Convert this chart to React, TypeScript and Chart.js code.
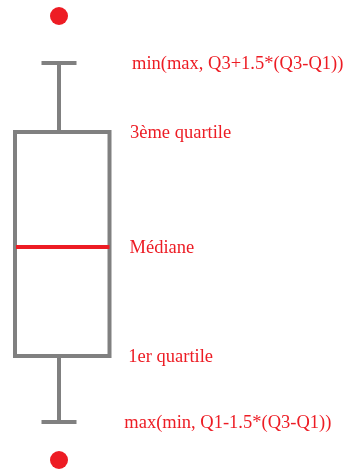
import { useEffect, useRef } from 'react';
import { Chart, registerables } from 'chart.js';

Chart.register(...registerables);

// ---- Data ----
const categories = ['Série'];
const upperOutliers = [45.5];
const upperWhiskers = [40.8];
const thirdQuartiles = [33.9];
const medians = [22.4];
const firstQuartiles = [11.5];
const lowerWhiskers = [4.9];
const lowerOutliers = [1.1];
const annotationLabels = [
  'min(max, Q3+1.5*(Q3-Q1))',
  '3ème quartile',
  'Médiane',
  '1er quartile',
  'max(min, Q1-1.5*(Q3-Q1))',
];

// ---- Styles ----
const RED = '#ed1c24';
const GRAY = '#808080';
const LINE_W = 4;
const BOX_HALF = 47.25;
const BOX_SHIFT = 3.25;
const CAP_HALF = 17.5;
const LABEL_OFFSETS = [73, 71, 70.5, 69.3, 65.3];
const LABEL_FONT = '18.5px "Liberation Serif", "Times New Roman", serif';

const boxPlugin = {
  id: 'boxAnnotations',
  afterDatasetsDraw(chart: any) {
    const { ctx, scales } = chart;
    const x = scales.x;
    const y = scales.y;
    const line = (x1: number, y1: number, x2: number, y2: number) => {
      ctx.beginPath();
      ctx.moveTo(x1, y1);
      ctx.lineTo(x2, y2);
      ctx.stroke();
    };
    categories.forEach((_, i) => {
      const cx = x.getPixelForValue(i);
      const yUW = y.getPixelForValue(upperWhiskers[i]);
      const yQ3 = y.getPixelForValue(thirdQuartiles[i]);
      const yMed = y.getPixelForValue(medians[i]);
      const yQ1 = y.getPixelForValue(firstQuartiles[i]);
      const yLW = y.getPixelForValue(lowerWhiskers[i]);
      const left = cx - BOX_HALF + BOX_SHIFT;
      const right = cx + BOX_HALF + BOX_SHIFT;

      ctx.save();
      ctx.lineCap = 'butt';
      ctx.lineJoin = 'miter';
      ctx.lineWidth = LINE_W;
      ctx.strokeStyle = GRAY;
      // whiskers
      line(cx, yUW, cx, yQ3);
      line(cx, yQ1, cx, yLW);
      // caps
      line(cx - CAP_HALF, yUW, cx + CAP_HALF, yUW);
      line(cx - CAP_HALF, yLW, cx + CAP_HALF, yLW);
      // box
      ctx.strokeRect(left, yQ3, right - left, yQ1 - yQ3);
      // median
      ctx.strokeStyle = RED;
      line(left + 1, yMed, right, yMed);

      // labels
      ctx.fillStyle = RED;
      ctx.font = LABEL_FONT;
      ctx.textBaseline = 'alphabetic';
      ctx.textAlign = 'left';
      const vals = [upperWhiskers[i], thirdQuartiles[i], medians[i], firstQuartiles[i], lowerWhiskers[i]];
      vals.forEach((v, k) => {
        ctx.fillText(annotationLabels[k], cx + LABEL_OFFSETS[k], y.getPixelForValue(v) + 5.5);
      });
      ctx.restore();
    });
  },
};

export default function App() {
  const canvasRef = useRef<HTMLCanvasElement | null>(null);

  useEffect(() => {
    if (!canvasRef.current) return;
    const chart = new Chart(canvasRef.current, {
      type: 'line',
      data: {
        labels: categories,
        datasets: [
          {
            label: 'Valeurs aberrantes hautes',
            data: upperOutliers,
            showLine: false,
            pointRadius: 9,
            pointHoverRadius: 9,
            pointBackgroundColor: RED,
            pointBorderWidth: 0,
            borderColor: RED,
          },
          {
            label: 'Valeurs aberrantes basses',
            data: lowerOutliers,
            showLine: false,
            pointRadius: 9,
            pointHoverRadius: 9,
            pointBackgroundColor: RED,
            pointBorderWidth: 0,
            borderColor: RED,
          },
        ],
      },
      options: {
        animation: false,
        responsive: true,
        maintainAspectRatio: false,
        events: [],
        layout: { autoPadding: false, padding: { left: 0, right: 231, top: 0, bottom: 0 } },
        plugins: { legend: { display: false }, tooltip: { enabled: false } },
        scales: {
          x: { display: false, offset: true },
          y: { display: false, min: 0, max: 47.1 },
        },
      },
      plugins: [boxPlugin],
    });
    return () => chart.destroy();
  }, []);

  return (
    <div style={{ position: 'fixed', left: 0, top: 0, width: 349, height: 471, background: '#fff' }}>
      <canvas ref={canvasRef} />
    </div>
  );
}
